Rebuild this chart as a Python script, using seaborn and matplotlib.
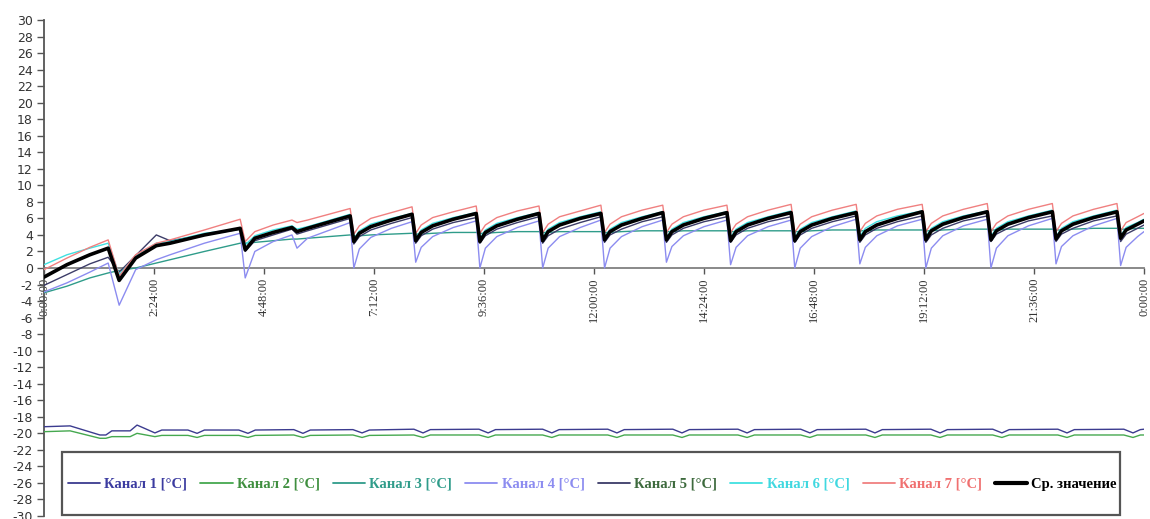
import matplotlib
matplotlib.use("Agg")
import matplotlib.pyplot as plt
from matplotlib.font_manager import FontProperties
from matplotlib.patches import Rectangle
import seaborn as sns

# ---------------- data ----------------
X_LABELS = ["0:00:00", "2:24:00", "4:48:00", "7:12:00", "9:36:00", "12:00:00",
            "14:24:00", "16:48:00", "19:12:00", "21:36:00", "0:00:00"]

SERIES_NAMES = ["Канал 1 [°C]", "Канал 2 [°C]", "Канал 3 [°C]", "Канал 4 [°C]",
                "Канал 5 [°C]", "Канал 6 [°C]", "Канал 7 [°C]", "Ср. значение"]

# time in hours for the upper (chamber) channels
T = [0.0, 0.5, 1.0, 1.40, 1.64, 2.0, 2.45, 2.75, 3.5, 4.28, 4.39, 4.6, 5.0, 5.41, 5.52, 5.75,
     6.68, 6.76, 6.88, 7.13, 7.58,
     8.03, 8.11, 8.23, 8.48, 8.93,
     9.43, 9.51, 9.63, 9.88, 10.33,
     10.80, 10.88, 11.00, 11.25, 11.70,
     12.15, 12.23, 12.35, 12.60, 13.05,
     13.50, 13.58, 13.70, 13.95, 14.40,
     14.90, 14.98, 15.10, 15.35, 15.80,
     16.30, 16.38, 16.50, 16.75, 17.20,
     17.72, 17.80, 17.92, 18.17, 18.62,
     19.16, 19.24, 19.36, 19.61, 20.06,
     20.58, 20.66, 20.78, 21.03, 21.48,
     22.00, 22.08, 22.20, 22.45, 22.90,
     23.41, 23.49, 23.61, 23.86, 24.00]

avg = [-1.1, 0.4, 1.6, 2.4, -1.5, 1.2, 2.7, 3.0, 4.0, 4.8, 2.2, 3.6, 4.3, 4.9, 4.4, 4.8,
       6.3, 3.2, 4.2, 5.0, 5.8,
       6.5, 3.3, 4.3, 5.1, 5.9,
       6.6, 3.2, 4.3, 5.1, 5.9,
       6.6, 3.3, 4.4, 5.2, 6.0,
       6.6, 3.4, 4.4, 5.2, 6.0,
       6.7, 3.4, 4.4, 5.2, 6.0,
       6.7, 3.3, 4.4, 5.2, 6.0,
       6.7, 3.3, 4.4, 5.2, 6.0,
       6.7, 3.4, 4.4, 5.2, 6.0,
       6.8, 3.4, 4.5, 5.3, 6.1,
       6.8, 3.4, 4.5, 5.3, 6.1,
       6.8, 3.5, 4.5, 5.3, 6.1,
       6.8, 3.6, 4.6, 5.3, 5.7]

ch7 = [-0.2, 1.2, 2.5, 3.4, -1.0, 1.6, 3.0, 3.4, 4.6, 5.9, 3.2, 4.4, 5.2, 5.8, 5.5, 5.8,
       7.2, 4.1, 5.1, 6.0, 6.7,
       7.4, 4.2, 5.2, 6.1, 6.8,
       7.5, 4.2, 5.2, 6.1, 6.9,
       7.5, 4.3, 5.3, 6.2, 6.9,
       7.6, 4.3, 5.3, 6.2, 7.0,
       7.6, 4.3, 5.3, 6.2, 7.0,
       7.6, 4.3, 5.3, 6.2, 7.0,
       7.7, 4.3, 5.3, 6.2, 7.0,
       7.7, 4.4, 5.4, 6.3, 7.1,
       7.7, 4.4, 5.4, 6.3, 7.1,
       7.8, 4.4, 5.4, 6.3, 7.1,
       7.8, 4.4, 5.4, 6.3, 7.1,
       7.8, 4.5, 5.5, 6.2, 6.6]

ch6 = [0.4, 1.6, 2.4, 3.0, -0.8, 1.4, 3.0, 3.2, 4.2, 4.7, 2.8, 3.9, 4.6, 5.1, 4.7, 5.0,
       6.5, 3.5, 4.5, 5.3, 6.0,
       6.6, 3.6, 4.6, 5.4, 6.1,
       6.7, 3.6, 4.6, 5.4, 6.1,
       6.7, 3.7, 4.7, 5.5, 6.2,
       6.8, 3.7, 4.7, 5.5, 6.2,
       6.8, 3.7, 4.7, 5.5, 6.2,
       6.8, 3.7, 4.7, 5.5, 6.2,
       6.9, 3.7, 4.7, 5.5, 6.2,
       6.9, 3.8, 4.8, 5.6, 6.3,
       6.9, 3.8, 4.8, 5.6, 6.3,
       6.9, 3.8, 4.8, 5.6, 6.3,
       7.0, 3.8, 4.8, 5.6, 6.3,
       7.0, 3.9, 4.9, 5.5, 5.9]

ch5 = [-2.1, -0.8, 0.5, 1.3, -0.5, 1.5, 4.0, 3.3, 4.0, 4.7, 2.0, 3.3, 4.0, 4.7, 4.1, 4.5,
       6.0, 2.9, 3.8, 4.6, 5.4,
       6.1, 3.0, 3.9, 4.7, 5.5,
       6.1, 3.0, 3.9, 4.7, 5.5,
       6.2, 3.0, 3.9, 4.7, 5.5,
       6.2, 3.1, 4.0, 4.7, 5.6,
       6.2, 3.1, 4.0, 4.8, 5.6,
       6.2, 3.1, 4.0, 4.8, 5.6,
       6.2, 3.1, 4.0, 4.8, 5.6,
       6.3, 3.1, 4.0, 4.8, 5.6,
       6.3, 3.1, 4.0, 4.8, 5.7,
       6.3, 3.2, 4.1, 4.8, 5.7,
       6.3, 3.2, 4.1, 4.8, 5.7,
       6.3, 3.2, 4.1, 4.8, 5.2]

ch4 = [-2.9, -1.8, -0.5, 0.6, -4.5, -0.2, 1.0, 1.6, 3.0, 4.2, -1.2, 2.0, 3.2, 4.0, 2.4, 3.6,
       5.5, 0.0, 2.3, 3.7, 4.8,
       5.6, 0.7, 2.5, 3.8, 4.9,
       5.7, 0.0, 2.4, 3.8, 4.9,
       5.7, 0.0, 2.4, 3.8, 4.9,
       5.8, 0.0, 2.4, 3.8, 5.0,
       5.8, 0.7, 2.6, 3.9, 5.0,
       5.8, 0.4, 2.5, 3.9, 5.0,
       5.8, 0.0, 2.4, 3.8, 5.0,
       5.9, 0.5, 2.5, 3.9, 5.1,
       5.9, 0.0, 2.4, 3.9, 5.1,
       5.9, 0.0, 2.4, 3.9, 5.1,
       6.0, 0.5, 2.6, 3.9, 5.1,
       6.0, 0.3, 2.5, 3.8, 4.4]

ch3 = [-3.0, -2.2, -1.2, -0.6, -0.3, 0.0, 0.6, 1.0, 2.0, 3.0, 3.0, 3.1, 3.3, 3.5, 3.5, 3.6,
       4.0, 3.9, 3.9, 4.0, 4.1,
       4.2, 4.1, 4.1, 4.2, 4.3,
       4.3, 4.2, 4.2, 4.3, 4.4,
       4.4, 4.3, 4.3, 4.4, 4.4,
       4.4, 4.3, 4.3, 4.4, 4.5,
       4.5, 4.4, 4.4, 4.5, 4.5,
       4.5, 4.4, 4.4, 4.5, 4.5,
       4.5, 4.4, 4.4, 4.5, 4.6,
       4.6, 4.5, 4.5, 4.6, 4.6,
       4.6, 4.5, 4.5, 4.6, 4.7,
       4.7, 4.6, 4.6, 4.7, 4.7,
       4.7, 4.6, 4.6, 4.7, 4.8,
       4.8, 4.7, 4.7, 4.8, 4.8]

# time in hours for the two freezer channels
TB = [0.0, 0.57, 1.22, 1.35, 1.48, 1.88, 2.03, 2.42, 2.57,
      3.14, 3.34, 3.50,
      4.25, 4.45, 4.61,
      5.45, 5.65, 5.81,
      6.74, 6.94, 7.10,
      8.07, 8.27, 8.43,
      9.49, 9.69, 9.85,
      10.88, 11.08, 11.24,
      12.30, 12.50, 12.66,
      13.72, 13.92, 14.08,
      15.14, 15.34, 15.50,
      16.51, 16.71, 16.87,
      17.93, 18.13, 18.29,
      19.35, 19.55, 19.71,
      20.70, 20.90, 21.06,
      22.12, 22.32, 22.48,
      23.56, 23.76, 23.92,
      24.0]

ch1 = [-19.2, -19.1, -20.2, -20.2, -19.7, -19.7, -19.0, -19.95, -19.6,
       -19.6, -20.0, -19.6,
       -19.6, -20.0, -19.6,
       -19.55, -20.0, -19.6,
       -19.55, -19.95, -19.6,
       -19.5, -19.95, -19.55,
       -19.5, -19.95, -19.55,
       -19.5, -19.95, -19.55,
       -19.5, -19.95, -19.55,
       -19.5, -19.95, -19.55,
       -19.5, -19.95, -19.55,
       -19.5, -19.95, -19.55,
       -19.5, -19.95, -19.55,
       -19.5, -19.95, -19.55,
       -19.5, -19.95, -19.55,
       -19.5, -19.95, -19.55,
       -19.5, -19.95, -19.55,
       -19.5]

ch2 = [-19.8, -19.7, -20.6, -20.6, -20.4, -20.4, -20.0, -20.4, -20.25,
       -20.25, -20.5, -20.25,
       -20.25, -20.5, -20.25,
       -20.2, -20.5, -20.25,
       -20.2, -20.5, -20.25,
       -20.2, -20.5, -20.2,
       -20.2, -20.5, -20.2,
       -20.2, -20.5, -20.2,
       -20.2, -20.5, -20.2,
       -20.2, -20.5, -20.2,
       -20.2, -20.5, -20.2,
       -20.2, -20.5, -20.2,
       -20.2, -20.5, -20.2,
       -20.2, -20.5, -20.2,
       -20.2, -20.5, -20.2,
       -20.2, -20.5, -20.2,
       -20.2, -20.5, -20.2,
       -20.2]

# ---------------- style ----------------
LINE_COLORS = ["#3b3b8f", "#45a84f", "#2f9c8a", "#8c8cf0",
               "#3c3c68", "#40e0e0", "#f08080", "#000000"]
TEXT_COLORS = ["#3b3ba0", "#3f8f3f", "#2f9c8a", "#8c8cf0",
               "#3d6a3d", "#40d8e0", "#f07070", "#000000"]
LINE_WIDTHS = [1.0, 1.0, 1.0, 1.0, 1.0, 1.0, 1.0, 2.6]

sns.set_style("white")
plt.rcParams["font.family"] = ["DejaVu Sans"]

W, H = 1150, 519
fig = plt.figure(figsize=(W / 100, H / 100), dpi=100)
ax = fig.add_axes([44 / W, 3 / H, 1100 / W, 496 / H])

data = [(TB, ch1), (TB, ch2), (T, ch3), (T, ch4), (T, ch5), (T, ch6), (T, ch7), (T, avg)]
zorders = [3, 3, 3, 4, 5, 5, 5, 6]
for (tx, vy), name, c, lw, z in zip(data, SERIES_NAMES, LINE_COLORS, LINE_WIDTHS, zorders):
    sns.lineplot(x=tx, y=vy, ax=ax, color=c, linewidth=lw, label=name,
                 estimator=None, sort=False, zorder=z)

# spines first (set_position resets tick properties)
for s in ("top", "right"):
    ax.spines[s].set_visible(False)
ax.spines["bottom"].set_position(("data", 0))
ax.spines["bottom"].set_color("#808080")
ax.spines["bottom"].set_linewidth(1.3)
ax.spines["left"].set_color("#555555")
ax.spines["left"].set_linewidth(1.3)

ax.set_xlim(0, 24)
ax.set_ylim(-30, 30)
ax.set_xlabel("")
ax.set_ylabel("")

yt = list(range(-30, 31, 2))
ax.set_yticks(yt)
ax.set_yticklabels([str(v) for v in yt])


def to_hours(lbl, idx):
    h, m, s = (int(p) for p in lbl.split(":"))
    val = h + m / 60 + s / 3600
    if idx == len(X_LABELS) - 1 and val == 0:
        val = 24.0
    return val


ax.set_xticks([to_hours(l, i) for i, l in enumerate(X_LABELS)])
ax.set_xticklabels(X_LABELS)
ax.tick_params(axis="y", direction="out", length=5, width=1, color="#555555",
               labelsize=9, labelcolor="#333333", pad=3, left=True)
ax.tick_params(axis="x", direction="out", length=4, width=1, color="#555555",
               pad=3, bottom=True, labelrotation=90, labelsize=9, labelcolor="#333333")
for lbl in ax.get_xticklabels():
    lbl.set_fontfamily("Liberation Serif")

# legend box drawn as a rectangle, legend itself frameless inside it
box = Rectangle(((62 - 44) / 1100, (516 - 515) / 496), (1120 - 62) / 1100, (515 - 452) / 496,
                transform=ax.transAxes, facecolor="white", edgecolor="#555555",
                linewidth=1.6, zorder=7, clip_on=False)
ax.add_patch(box)

leg = ax.legend(loc="center left",
                bbox_to_anchor=((68 - 44) / 1100, (516 - 484) / 496 - 0.04,
                                (1117 - 68) / 1100, 0.08),
                mode="expand", ncol=8, frameon=False,
                borderpad=0.0, handlelength=2.2, handletextpad=0.3,
                borderaxespad=0.0, columnspacing=0.3,
                prop=FontProperties(family="Liberation Serif", weight="bold", size=10.5))
leg.set_zorder(8)
for txt, c in zip(leg.get_texts(), TEXT_COLORS):
    txt.set_color(c)
for line, lw in zip(leg.get_lines(), LINE_WIDTHS):
    line.set_linewidth(lw + (0.4 if lw > 2 else 0.3))

fig.savefig("out.png", dpi=100)
